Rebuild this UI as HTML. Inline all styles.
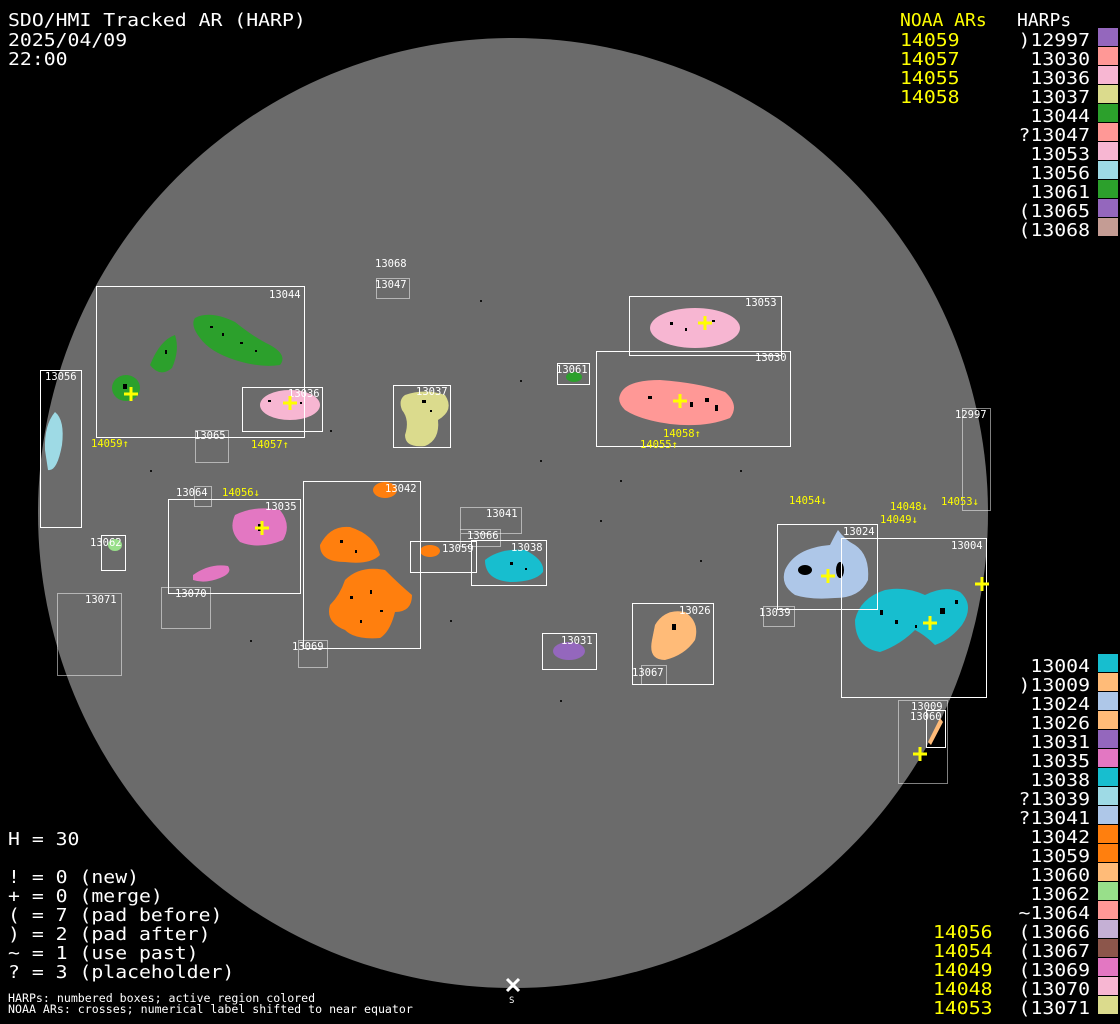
<!DOCTYPE html>
<html><head><meta charset="utf-8"><style>
html,body{margin:0;padding:0;background:#000;}
svg{display:block}
text{font-family:"DejaVu Sans Mono","Liberation Mono",monospace;}
</style></head><body>
<svg width="1120" height="1024" viewBox="0 0 1120 1024" xmlns="http://www.w3.org/2000/svg">
<rect width="1120" height="1024" fill="#000"/>
<circle cx="513" cy="513" r="475" fill="#6b6b6b"/>

<!-- blobs -->
<g>
<path d="M195,318 Q210,310 235,322 Q255,338 270,345 Q288,355 280,365 Q260,368 235,360 Q210,352 200,338 Q190,325 195,318Z" fill="#2ca02c"/>
<path d="M150,365 Q160,340 175,335 Q180,350 172,368 Q160,378 150,365Z" fill="#2ca02c"/>
<ellipse cx="126" cy="388" rx="14" ry="13" fill="#2ca02c"/>
<path d="M45,450 Q44,425 55,412 Q65,420 62,445 Q57,472 48,470Z" fill="#9edae5"/>
<ellipse cx="290" cy="405" rx="30" ry="15" fill="#f7b6d2"/>
<path d="M405,395 Q425,388 445,395 Q455,410 438,420 Q440,440 425,446 Q405,448 405,435 Q410,420 402,410 Q398,400 405,395Z" fill="#dbdb8d"/>
<ellipse cx="695" cy="328" rx="45" ry="20" fill="#f7b6d2"/>
<path d="M620,395 Q625,380 660,380 Q700,383 725,392 Q740,405 730,418 Q705,428 670,424 Q640,420 625,410 Q617,402 620,395Z" fill="#ff9896"/>
<ellipse cx="574" cy="377" rx="8" ry="5" fill="#2ca02c"/>
<path d="M235,515 Q255,505 280,510 Q292,525 283,540 Q260,550 240,542 Q228,530 235,515Z" fill="#e377c2"/>
<path d="M193,575 Q210,563 228,566 Q233,573 220,578 Q205,584 193,580Z" fill="#e377c2"/>
<ellipse cx="385" cy="490" rx="12" ry="8" fill="#ff7f0e"/>
<path d="M320,545 Q330,525 350,527 Q375,535 380,555 Q370,565 345,562 Q320,562 320,545Z" fill="#ff7f0e"/>
<path d="M345,580 Q360,565 385,570 Q400,585 412,595 Q412,612 395,612 Q390,632 380,638 Q355,640 345,630 Q325,622 330,605 Q340,595 345,580Z" fill="#ff7f0e"/>
<ellipse cx="430" cy="551" rx="10" ry="6" fill="#ff7f0e"/>
<path d="M485,560 Q500,548 525,550 Q545,560 543,572 Q535,582 510,582 Q485,580 485,560Z" fill="#17becf"/>
<ellipse cx="569" cy="651" rx="16" ry="9" fill="#9467bd"/>
<path d="M655,625 Q665,608 685,612 Q700,622 695,640 Q685,655 665,660 Q648,660 652,640Z" fill="#ffbb78"/>
<path d="M785,570 Q795,548 830,545 Q835,535 838,530 Q845,540 855,545 Q870,555 868,580 Q860,598 835,598 Q810,600 795,595 Q780,585 785,570Z" fill="#aec7e8"/>
<path d="M855,620 Q860,598 885,590 Q905,586 925,595 Q945,585 960,592 Q975,605 962,625 Q950,640 935,645 Q925,635 915,630 Q900,645 880,652 Q855,648 855,620Z" fill="#17becf"/>
<ellipse cx="115" cy="545" rx="7" ry="6" fill="#98df8a"/>
<path d="M928,742 L940,718 L943,722 L931,745Z" fill="#ffbb78"/>
</g>
<!-- black specks in regions -->
<g fill="#000">
<rect x="210" y="326" width="3" height="2"/><rect x="222" y="333" width="2" height="3"/><rect x="240" y="342" width="3" height="2"/><rect x="255" y="350" width="2" height="2"/><rect x="165" y="350" width="2" height="4"/><rect x="123" y="384" width="4" height="5"/>
<rect x="268" y="400" width="3" height="2"/><rect x="300" y="402" width="2" height="2"/>
<rect x="422" y="400" width="4" height="3"/><rect x="430" y="410" width="2" height="2"/>
<rect x="670" y="322" width="3" height="3"/><rect x="685" y="328" width="2" height="3"/><rect x="712" y="320" width="3" height="2"/>
<rect x="648" y="396" width="4" height="3"/><rect x="690" y="402" width="3" height="5"/><rect x="705" y="398" width="4" height="4"/><rect x="715" y="405" width="3" height="6"/>
<rect x="258" y="524" width="5" height="7"/><rect x="340" y="540" width="3" height="3"/><rect x="355" y="550" width="2" height="3"/>
<rect x="350" y="596" width="3" height="3"/><rect x="370" y="590" width="2" height="4"/><rect x="380" y="610" width="3" height="2"/><rect x="360" y="620" width="2" height="3"/>
<rect x="510" y="562" width="3" height="3"/><rect x="525" y="568" width="2" height="2"/>
<rect x="672" y="624" width="4" height="6"/>
<ellipse cx="805" cy="570" rx="7" ry="5"/><ellipse cx="840" cy="570" rx="4" ry="8"/>
<rect x="880" y="610" width="3" height="5"/><rect x="895" y="620" width="3" height="4"/><rect x="940" y="608" width="5" height="6"/><rect x="955" y="600" width="3" height="4"/><rect x="915" y="625" width="2" height="3"/>
</g>
<g fill="#111">
<rect x="150" y="470" width="2" height="2"/><rect x="330" y="430" width="2" height="2"/><rect x="480" y="300" width="2" height="2"/><rect x="540" y="460" width="2" height="2"/>
<rect x="600" y="520" width="2" height="2"/><rect x="700" y="560" width="2" height="2"/><rect x="450" y="620" width="2" height="2"/><rect x="250" y="640" width="2" height="2"/>
<rect x="560" y="700" width="2" height="2"/><rect x="620" y="480" width="2" height="2"/><rect x="740" y="470" width="2" height="2"/><rect x="520" y="380" width="2" height="2"/>
</g>

<!-- solid boxes -->
<g fill="none" stroke="#fff" stroke-width="1">
<rect x="96.5" y="286.5" width="208" height="151"/>
<rect x="40.5" y="370.5" width="41" height="157"/>
<rect x="242.5" y="387.5" width="80" height="44"/>
<rect x="393.5" y="385.5" width="57" height="62"/>
<rect x="629.5" y="296.5" width="152" height="59"/>
<rect x="596.5" y="351.5" width="194" height="95"/>
<rect x="557.5" y="363.5" width="32" height="21"/>
<rect x="168.5" y="499.5" width="132" height="94"/>
<rect x="303.5" y="481.5" width="117" height="167"/>
<rect x="410.5" y="541.5" width="66" height="31"/>
<rect x="471.5" y="540.5" width="75" height="45"/>
<rect x="542.5" y="633.5" width="54" height="36"/>
<rect x="632.5" y="603.5" width="81" height="81"/>
<rect x="777.5" y="524.5" width="100" height="85"/>
<rect x="841.5" y="538.5" width="145" height="159"/>
<rect x="101.5" y="535.5" width="24" height="35"/>
<rect x="926.5" y="710.5" width="19" height="37"/>
</g>
<!-- dotted boxes -->
<g fill="none" stroke="#fff" stroke-width="1" stroke-dasharray="1,1">
<rect x="376.5" y="278.5" width="33" height="20"/>
<rect x="195.5" y="430.5" width="33" height="32"/>
<rect x="194.5" y="486.5" width="17" height="20"/>
<rect x="161.5" y="587.5" width="49" height="41"/>
<rect x="57.5" y="593.5" width="64" height="82"/>
<rect x="460.5" y="507.5" width="61" height="26"/>
<rect x="460.5" y="529.5" width="40" height="17"/>
<rect x="298.5" y="640.5" width="29" height="27"/>
<rect x="641.5" y="665.5" width="25" height="19"/>
<rect x="763.5" y="606.5" width="31" height="20"/>
<rect x="962.5" y="408.5" width="28" height="102"/>
<rect x="898.5" y="700.5" width="49" height="83"/>
</g>

<!-- box labels -->
<g fill="#fff" font-size="10.5">
<text x="375" y="267">13068</text>
<text x="375" y="288">13047</text>
<text x="269" y="298">13044</text>
<text x="745" y="306">13053</text>
<text x="755" y="361">13030</text>
<text x="45" y="380">13056</text>
<text x="556" y="373">13061</text>
<text x="288" y="397">13036</text>
<text x="416" y="395">13037</text>
<text x="955" y="418">12997</text>
<text x="194" y="439">13065</text>
<text x="176" y="496">13064</text>
<text x="385" y="492">13042</text>
<text x="265" y="510">13035</text>
<text x="486" y="517">13041</text>
<text x="467" y="539">13066</text>
<text x="843" y="535">13024</text>
<text x="951" y="549">13004</text>
<text x="90" y="546">13062</text>
<text x="442" y="552">13059</text>
<text x="511" y="551">13038</text>
<text x="175" y="597">13070</text>
<text x="85" y="603">13071</text>
<text x="679" y="614">13026</text>
<text x="759" y="616">13039</text>
<text x="561" y="644">13031</text>
<text x="292" y="650">13069</text>
<text x="632" y="676">13067</text>
<text x="911" y="710">13009</text>
<text x="910" y="720">13060</text>
</g>

<!-- NOAA labels -->
<g fill="#ffff00" font-size="10.5">
<text x="91" y="447">14059↑</text>
<text x="251" y="448">14057↑</text>
<text x="663" y="437">14058↑</text>
<text x="640" y="448">14055↑</text>
<text x="222" y="496">14056↓</text>
<text x="789" y="504">14054↓</text>
<text x="890" y="510">14048↓</text>
<text x="941" y="505">14053↓</text>
<text x="880" y="523">14049↓</text>
</g>

<!-- crosses -->
<g stroke="#ffff00" stroke-width="3">
<path d="M124,394h14M131,387v14"/>
<path d="M283,403h14M290,396v14"/>
<path d="M698,323h14M705,316v14"/>
<path d="M673,401h14M680,394v14"/>
<path d="M255,528h14M262,521v14"/>
<path d="M821,576h14M828,569v14"/>
<path d="M923,623h14M930,616v14"/>
<path d="M975,584h14M982,577v14"/>
<path d="M913,754h14M920,747v14"/>
</g>
<path d="M507,979l12,12M519,979l-12,12" stroke="#fff" stroke-width="3"/>
<text x="509" y="1003" fill="#fff" font-size="9">S</text>

<!-- top-left -->
<g fill="#fff" font-size="18" transform="translate(8,0) scale(1.1,1) translate(-8,0)">
<text x="8" y="26">SDO/HMI Tracked AR (HARP)</text>
<text x="8" y="46">2025/04/09</text>
<text x="8" y="65">22:00</text>
<text x="8" y="845">H = 30</text>
<text x="8" y="883">! = 0 (new)</text>
<text x="8" y="902">+ = 0 (merge)</text>
<text x="8" y="921">( = 7 (pad before)</text>
<text x="8" y="940">) = 2 (pad after)</text>
<text x="8" y="959">~ = 1 (use past)</text>
<text x="8" y="978">? = 3 (placeholder)</text>
</g>
<g fill="#fff" font-size="11.6">
<text x="8" y="1002">HARPs: numbered boxes; active region colored</text>
<text x="8" y="1013">NOAA ARs: crosses; numerical label shifted to near equator</text>
</g>

<!-- right legend top -->
<text x="900" y="26" fill="#ffff00" font-size="18">NOAA ARs</text>
<text x="1017" y="26" fill="#fff" font-size="18">HARPs</text>
<g font-size="18" transform="translate(900,0) scale(1.1,1) translate(-900,0)">
<g fill="#ffff00">
<text x="900" y="46">14059</text><text x="900" y="65">14057</text><text x="900" y="84">14055</text><text x="900" y="103">14058</text>
</g>
</g>
<g font-size="18" transform="translate(1090,0) scale(1.1,1) translate(-1090,0)">
<g fill="#fff" text-anchor="end">
<text x="1090" y="46">)12997</text><text x="1090" y="65">13030</text><text x="1090" y="84">13036</text><text x="1090" y="103">13037</text>
<text x="1090" y="122">13044</text><text x="1090" y="141">?13047</text><text x="1090" y="160">13053</text><text x="1090" y="179">13056</text>
<text x="1090" y="198">13061</text><text x="1090" y="217">(13065</text><text x="1090" y="236">(13068</text>
</g>
</g>
<g>
<rect x="1098" y="28" width="20" height="18" fill="#9467bd"/>
<rect x="1098" y="47" width="20" height="18" fill="#ff9896"/>
<rect x="1098" y="66" width="20" height="18" fill="#f7b6d2"/>
<rect x="1098" y="85" width="20" height="18" fill="#dbdb8d"/>
<rect x="1098" y="104" width="20" height="18" fill="#2ca02c"/>
<rect x="1098" y="123" width="20" height="18" fill="#ff9896"/>
<rect x="1098" y="142" width="20" height="18" fill="#f7b6d2"/>
<rect x="1098" y="161" width="20" height="18" fill="#9edae5"/>
<rect x="1098" y="180" width="20" height="18" fill="#2ca02c"/>
<rect x="1098" y="199" width="20" height="18" fill="#9467bd"/>
<rect x="1098" y="218" width="20" height="18" fill="#c49c94"/>
</g>

<!-- right legend bottom -->
<g font-size="18" fill="#fff" text-anchor="end" transform="translate(1090,0) scale(1.1,1) translate(-1090,0)">
<text x="1090" y="672">13004</text><text x="1090" y="691">)13009</text><text x="1090" y="710">13024</text>
<text x="1090" y="729">13026</text><text x="1090" y="748">13031</text><text x="1090" y="767">13035</text>
<text x="1090" y="786">13038</text><text x="1090" y="805">?13039</text><text x="1090" y="824">?13041</text>
<text x="1090" y="843">13042</text><text x="1090" y="862">13059</text><text x="1090" y="881">13060</text>
<text x="1090" y="900">13062</text><text x="1090" y="919">~13064</text><text x="1090" y="938">(13066</text>
<text x="1090" y="957">(13067</text><text x="1090" y="976">(13069</text><text x="1090" y="995">(13070</text>
<text x="1090" y="1014">(13071</text>
</g>
<g font-size="18" fill="#ffff00" transform="translate(933,0) scale(1.1,1) translate(-933,0)">
<text x="933" y="938">14056</text><text x="933" y="957">14054</text><text x="933" y="976">14049</text>
<text x="933" y="995">14048</text><text x="933" y="1014">14053</text>
</g>
<g>
<rect x="1098" y="654" width="20" height="18" fill="#17becf"/>
<rect x="1098" y="673" width="20" height="18" fill="#ffbb78"/>
<rect x="1098" y="692" width="20" height="18" fill="#aec7e8"/>
<rect x="1098" y="711" width="20" height="18" fill="#ffbb78"/>
<rect x="1098" y="730" width="20" height="18" fill="#9467bd"/>
<rect x="1098" y="749" width="20" height="18" fill="#e377c2"/>
<rect x="1098" y="768" width="20" height="18" fill="#17becf"/>
<rect x="1098" y="787" width="20" height="18" fill="#9edae5"/>
<rect x="1098" y="806" width="20" height="18" fill="#aec7e8"/>
<rect x="1098" y="825" width="20" height="18" fill="#ff7f0e"/>
<rect x="1098" y="844" width="20" height="18" fill="#ff7f0e"/>
<rect x="1098" y="863" width="20" height="18" fill="#ffbb78"/>
<rect x="1098" y="882" width="20" height="18" fill="#98df8a"/>
<rect x="1098" y="901" width="20" height="18" fill="#ff9896"/>
<rect x="1098" y="920" width="20" height="18" fill="#c5b0d5"/>
<rect x="1098" y="939" width="20" height="18" fill="#8c564b"/>
<rect x="1098" y="958" width="20" height="18" fill="#e377c2"/>
<rect x="1098" y="977" width="20" height="18" fill="#f7b6d2"/>
<rect x="1098" y="996" width="20" height="18" fill="#dbdb8d"/>
</g>
</svg>
</body></html>
